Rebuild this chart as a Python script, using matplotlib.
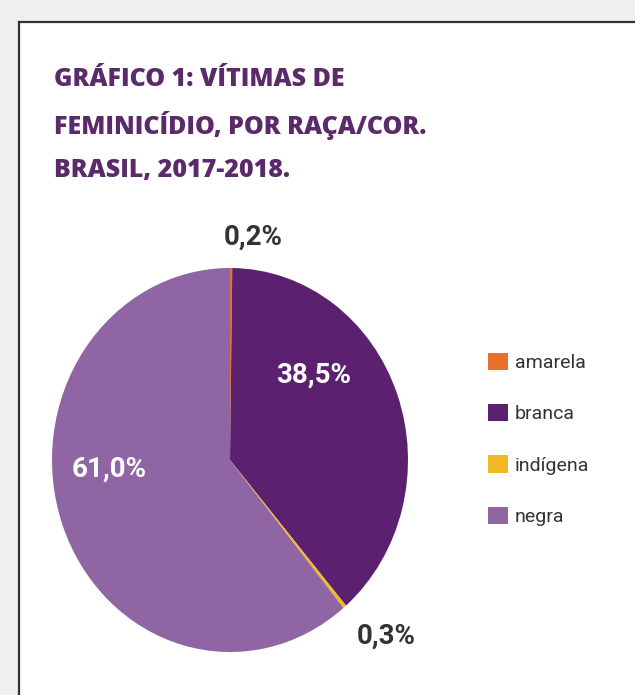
import matplotlib.pyplot as plt
from matplotlib.patches import Rectangle
from matplotlib.lines import Line2D

# dados
categorias = ["amarela", "branca", "indígena", "negra"]
valores = [0.2, 38.5, 0.3, 61.0]
rotulos = ["0,2%", "38,5%", "0,3%", "61,0%"]
cores = ["#E8702A", "#5B2170", "#F2B824", "#9065A4"]

titulo = ["GRÁFICO 1: VÍTIMAS DE", "FEMINICÍDIO, POR RAÇA/COR.", "BRASIL, 2017-2018."]

W, H = 635, 695
fig = plt.figure(figsize=(W / 100, H / 100), dpi=100)
fig.patch.set_facecolor("#efefef")

# moldura
fig.patches.append(Rectangle((19 / W, 0), 1, 1 - 22 / H, transform=fig.transFigure,
                             facecolor="white", edgecolor="none", zorder=-5))
fig.lines.append(Line2D([19 / W, 19 / W], [0, 1 - 22 / H], transform=fig.transFigure,
                        color="#333333", lw=1.6))
fig.lines.append(Line2D([19 / W, 1], [1 - 22 / H, 1 - 22 / H], transform=fig.transFigure,
                        color="#333333", lw=1.6))

# titulo, uma linha de cada vez
for i, linha in enumerate(titulo):
    fig.text(54 / W, 1 - (77 + 45 * i) / H, linha, ha="left", va="center_baseline",
             fontsize=18, fontweight="heavy", color="#5A2A6A",
             family=["Open Sans", "DejaVu Sans"])

# pizza
ax = fig.add_axes([52 / W, (H - 652) / H, 356 / W, 384 / H])
wedges, _ = ax.pie(valores, colors=cores, startangle=90, counterclock=False,
                   wedgeprops=dict(linewidth=0))
ax.set_aspect("auto")
ax.set_xlim(-1, 1)
ax.set_ylim(-1, 1)
ax.axis("off")

fonte = ["Liberation Sans Narrow", "Roboto", "DejaVu Sans"]
pos = {"0,2%": (0.13, 1.16, "#333333"), "38,5%": (0.47, 0.44, "white"),
       "0,3%": (0.875, -0.92, "#333333"), "61,0%": (-0.68, -0.05, "white")}
for r in rotulos:
    x, y, c = pos[r]
    ax.text(x, y, r, ha="center", va="center", fontsize=20, fontweight="bold",
            color=c, family=fonte, clip_on=False)

leg = fig.legend(wedges, categorias, loc="upper left",
                 bbox_to_anchor=(471 / W, 1 - 335 / H), frameon=False,
                 handlelength=1.0, handleheight=1.0, handletextpad=0.35,
                 labelspacing=1.65, prop={"family": fonte, "size": 14})
for t in leg.get_texts():
    t.set_color("#333333")

fig.savefig("out.png", dpi=100)
